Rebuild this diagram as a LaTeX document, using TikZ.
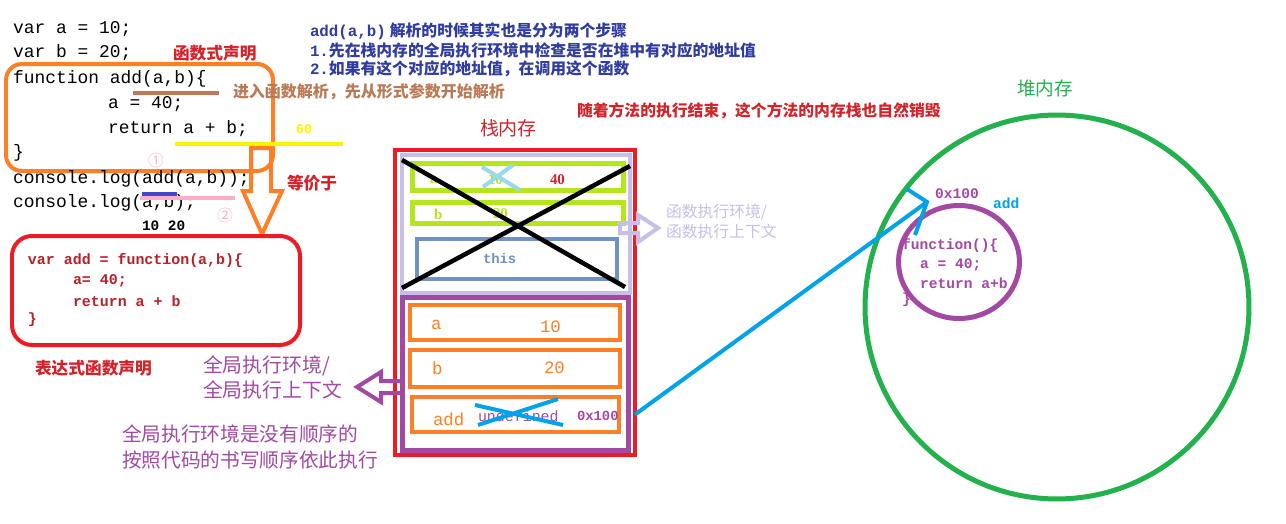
\documentclass[tikz,border=0pt]{standalone}
\usepackage{fontspec}
\setmainfont{Liberation Serif}
\setmonofont{Liberation Mono}
\newfontfamily\cjk{Noto Sans CJK SC}
\usetikzlibrary{fit,shapes.geometric}
\definecolor{pred}{HTML}{ED1C24}
\definecolor{tred}{HTML}{D2232A}
\definecolor{cred}{HTML}{B5222A}
\definecolor{porange}{HTML}{FF7F27}
\definecolor{pyellow}{HTML}{FFF200}
\definecolor{pgreen}{HTML}{22B14C}
\definecolor{pturq}{HTML}{00A2E8}
\definecolor{pindigo}{HTML}{3F48CC}
\definecolor{hblue}{HTML}{313D9E}
\definecolor{ppurple}{HTML}{A349A4}
\definecolor{pbrown}{HTML}{B97A57}
\definecolor{plime}{HTML}{B5E61D}
\definecolor{plturq}{HTML}{99D9EA}
\definecolor{pbgray}{HTML}{7092BE}
\definecolor{plav}{HTML}{C8BFE7}
\definecolor{ppink}{HTML}{FFAEC9}
\newcommand\F[1]{\fontsize{#1pt}{#1pt}\selectfont}
\begin{document}
\begin{tikzpicture}[x=0.02cm,y=-0.02cm,
  every node/.style={inner sep=0pt,outer sep=0pt},
  lw/.style={line width=0.08cm},
  lwb/.style={line width=0.1cm},
  code/.style={anchor=west,font=\ttfamily\F{10.2}},
  rcode/.style={anchor=west,text=cred,font=\ttfamily\bfseries\F{8.5}},
  hcode/.style={anchor=west,text=ppurple,font=\ttfamily\bfseries\F{8.3}},
  hdr/.style={anchor=west,text=hblue,font=\bfseries\F{9.0}},
  olabel/.style={anchor=west,text=porange,font=\ttfamily\F{9.9}},
  slabel/.style={anchor=west,font=\ttfamily\bfseries\F{7.9}},
  rowbox/.style={draw=porange,lw},
  blockarrow/.style={lw,line join=miter}]
\fill[white] (0,0) rectangle (1286,524);
\useasboundingbox (0,0) rectangle (1286,524);

% ---------- function declaration code ----------
\draw[porange,lw,rounded corners=0.32cm] (6,64) rectangle (273,171);
\node[code] (l1) at (13,29) {var a = 10;};
\node[code] (l2) at (13,53) {var b = 20;};
\node[code] (l3) at (13,79) {function add(a,b)\{};
\node[code] (l4) at (108,104) {a = 40;};
\node[code] (l5) at (108,129) {return a + b;};
\node[code] (l6) at (13,153) {\}};
\node[code] (l7) at (13,179) {console.log(add(a,b));};
\node[code] (l8) at (13,203) {console.log(a,b);};
\node[anchor=west,font=\ttfamily\bfseries\F{8.2}] (res) at (142,226) {10 20};

\node[anchor=west,text=tred,font=\cjk\bfseries\F{9.5}] (decl1) at (173,53) {函数式声明};
\draw[pbrown,lw] (133,93) -- (219,93);
\node[anchor=west,text=pbrown,font=\cjk\bfseries\F{9.1}] (parse) at (233,92) {进入函数解析，先从形式参数开始解析};
\draw[pyellow,lw] (175,144) -- (343,144);
\node[anchor=west,text=pyellow,font=\ttfamily\bfseries\F{7.6}] (sixty) at (296,129) {60};
\node[text=ppink,font=\cjk\F{9}] (c1) at (156,160) {①};
\node[text=ppink,font=\cjk\F{9}] (c2) at (225,215) {②};
\draw[ppink,lw] (140,198) -- (235,198);
\draw[pindigo,lw] (142,194) -- (177,194);

% orange "equivalent" block arrow
\draw[porange,blockarrow] (251,148) -- (271,148) -- (271,191) -- (282,191) -- (262,234)
   -- (243,191) -- (251,191) -- cycle;
\node[anchor=west,text=tred,font=\cjk\bfseries\F{9.5}] (equiv) at (287,183) {等价于};

% ---------- function expression ----------
\draw[pred,lw,rounded corners=0.4cm] (12,236) rectangle (300,345);
\node[rcode] (r1) at (28,261) {var add = function(a,b)\{};
\node[rcode] (r2) at (73,281) {a= 40;};
\node[rcode] (r3) at (73,301) {return a + b};
\node[rcode] (r4) at (28,320) {\}};
\node[anchor=west,text=tred,font=\cjk\bfseries\F{9.5}] (decl2) at (35,368) {表达式函数声明};

% ---------- header notes ----------
\node[hdr] (h1) at (310,31) {{\ttfamily add(a,b)} {\cjk 解析的时候其实也是分为两个步骤}};
\node[hdr] (h2) at (310,50) {{\ttfamily 1.}{\cjk 先在栈内存的全局执行环境中检查是否在堆中有对应的地址值}};
\node[hdr] (h3) at (310,69) {{\ttfamily 2.}{\cjk 如果有这个对应的地址值，在调用这个函数}};
\node[anchor=west,text=tred,font=\cjk\bfseries\F{9.0}] (destroy) at (577,111) {随着方法的执行结束，这个方法的内存栈也自然销毁};
\node[anchor=west,text=tred,font=\cjk\F{10.8}] (stacklbl) at (480,128) {栈内存};

% ---------- stack ----------
\node[fit={(395,150)(635,455)},draw=pred,lw] (stack) {};
\node[fit={(402,155)(630,293)},draw=plav,lw] (fctx) {};
\node[fit={(402,297)(628,450)},draw=ppurple,lwb] (gctx) {};
\node[fit={(412,163)(623,190)},draw=plime,lwb] (fa) {};
\node[fit={(412,202)(623,223)},draw=plime,lwb] (fb) {};
\node[fit={(417,239)(617,279)},draw=pbgray,lw] (fthis) {};
\node[anchor=west,text=plime,font=\bfseries\F{8.5}] (fat) at (430,180) {a};
\node[anchor=west,text=plime,font=\bfseries\F{8.5}] (fav) at (488,180) {10};
\node[anchor=west,text=tred,font=\bfseries\F{8.5}] (fanew) at (550,180) {40};
\node[anchor=west,text=plime,font=\bfseries\F{8.5}] (fbt) at (434,214) {b};
\node[anchor=west,text=plime,font=\bfseries\F{8.5}] (fbv) at (493,214) {20};
\node[slabel,text=pbgray] (thist) at (483,259) {this};

\node[fit={(410,305)(620,340)},rowbox] (rowa) {};
\node[fit={(410,350)(620,387)},rowbox] (rowb) {};
\node[fit={(412,397)(619,432)},rowbox] (rowadd) {};
\node[olabel] (ga) at (431,325) {a};
\node[olabel] (gav) at (540,327) {10};
\node[olabel] (gb) at (432,368) {b};
\node[olabel] (gbv) at (544,368) {20};
\node[olabel] (gadd) at (433,419) {add};
\node[slabel,text=ppurple,font=\ttfamily\F{8.5}] (gundef) at (478,416) {undefined};
\node[slabel,text=ppurple] (gaddr) at (577,416) {0x100};

% crosses
\draw[plturq,lw] (482,167) -- (520,190) (483,187) -- (513,165);
\draw[pturq,lw] (475,405) -- (563,425) (478,425) -- (558,399);
\draw[black,line width=0.09cm] (402,160) -- (625,287) (402,288) -- (630,166);

% context arrows and labels
\draw[plav,blockarrow] (620,223) -- (638,223) -- (638,215) -- (658,228) -- (638,242)
   -- (638,233) -- (620,233) -- cycle;
\node[anchor=west,text=plav,font=\cjk\F{9.0}] (fl1) at (666,212) {函数执行环境/};
\node[anchor=west,text=plav,font=\cjk\F{9.0}] (fl2) at (666,231) {函数执行上下文};
\draw[ppurple,blockarrow] (402,381) -- (381,381) -- (381,372) -- (357,387) -- (381,402)
   -- (381,393) -- (402,393) -- cycle;
\node[anchor=west,text=ppurple,font=\cjk\F{11.3}] (gl1) at (203,366) {全局执行环境/};
\node[anchor=west,text=ppurple,font=\cjk\F{11.3}] (gl2) at (203,390) {全局执行上下文};
\node[anchor=west,text=ppurple,font=\cjk\F{11.2}] (gn1) at (122,434) {全局执行环境是没有顺序的};
\node[anchor=west,text=ppurple,font=\cjk\F{11.2}] (gn2) at (122,460) {按照代码的书写顺序依此执行};

% ---------- heap ----------
\node[circle,draw=pgreen,lwb,minimum size=7.68cm] (heap) at (1057,307) {};
\node[anchor=west,text=pgreen,font=\cjk\F{10.6}] (heaplbl) at (1017,88) {堆内存};
\node[ellipse,draw=ppurple,lwb,minimum width=2.42cm,minimum height=2.26cm] (fnobj) at (959,262) {};
\node[hcode] (addr) at (935,194) {0x100};
\node[hcode,text=pturq] (addname) at (993,203) {add};
\node[hcode] (f1) at (902,246) {function()\{};
\node[hcode] (f2) at (920,265) {a = 40;};
\node[hcode] (f3) at (920,283) {return a+b};
\node[hcode] (f4) at (902,300) {\}};

% pointer from stack to heap
\coordinate (tip) at (927,202);
\coordinate (arm1) at (907,189);
\coordinate (arm2) at (915,235);
\draw[pturq,lw] (rowadd.east -| stack.east) -- (tip);
\draw[pturq,lw,line join=miter] (arm1) -- (tip) -- (arm2);
\end{tikzpicture}
\end{document}
